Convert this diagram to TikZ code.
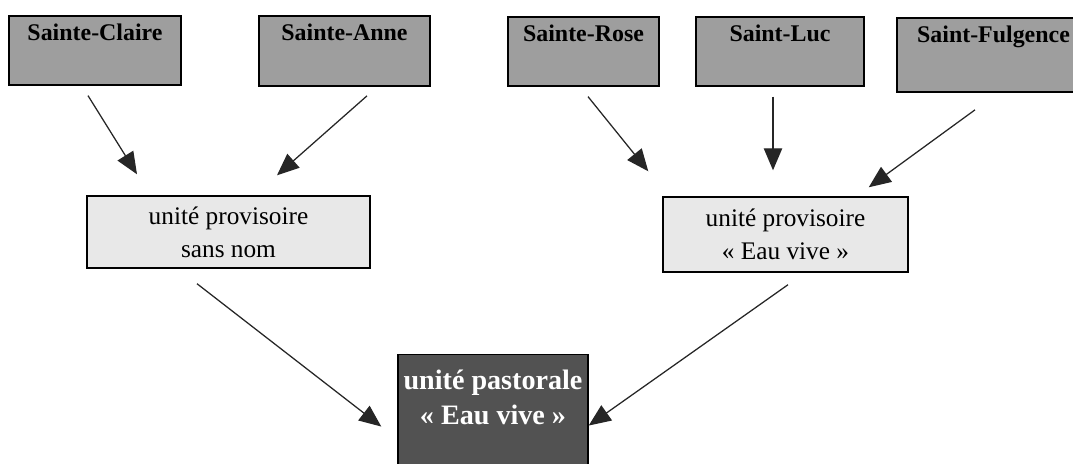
\documentclass[tikz,border=0pt]{standalone}
\usepackage{fontspec}
\setmainfont{Liberation Serif}
\usetikzlibrary{arrows.meta,calc}

\begin{document}
\begin{tikzpicture}[x=0.025cm, y=-0.025cm,
      parish/.style={rectangle, draw, line width=1.3pt, fill=black!38, anchor=north,
                     inner ysep=0pt, text height=0.62cm, text depth=1.1cm,
                     font=\fontsize{17}{20}\selectfont\bfseries},
      provunit/.style={rectangle, draw, line width=1pt, fill=black!9, align=center,
                       font=\fontsize{18}{23.5}\selectfont},
      pastunit/.style={rectangle, draw, line width=1pt, fill=black!68, text=white,
                       align=center, anchor=north, minimum width=4.75cm, minimum height=2.8cm,
                       font=\fontsize{20}{25}\selectfont\bfseries},
      arr/.style={-{Triangle[length=0.55cm, width=0.46cm]}, line width=0.9pt, draw=black!85}]
    \useasboundingbox (0,0) rectangle (1073,464);
    % parishes
    \node[parish, minimum width=4.3cm] (claire) at (95,15) {Sainte-Claire};
    \node[parish, minimum width=4.275cm, text depth=1.13cm] (anne) at (344.5,15) {Sainte-Anne};
    \node[parish, minimum width=3.775cm] (rose) at (583.5,16) {Sainte-Rose};
    \node[parish, minimum width=4.2cm] (luc) at (780,16) {Saint-Luc};
    \node[parish, minimum width=4.825cm, text depth=1.23cm] (fulg) at (993.5,17) {Saint-Fulgence};
    % provisional units
    \node[provunit, minimum width=7.075cm, minimum height=1.8cm] (sansnom) at (228.5,232)
      {unité provisoire\\sans nom};
    \node[provunit, minimum width=6.125cm, minimum height=1.875cm] (eauvive) at (785.5,234.5)
      {unité provisoire\\« Eau vive »};
    % pastoral unit
    \node[pastunit] (past) at (493,354) {\rule{0pt}{0.75cm}unité pastorale\\« Eau vive »\\[1.05cm]};
    \draw[arr] ($(claire.south)+(-7,10)$) -- ($(sansnom.north)+(-91.5,-21)$);
    \draw[arr] ($(anne.south)+(22.5,9)$) -- ($(sansnom.north)+(48.5,-20)$);
    \draw[arr] ($(rose.south)+(4.5,10)$) -- ($(eauvive.north west)+(-14,-25)$);
    \draw[arr] ($(luc.south)+(-7,10)$) -- ($(eauvive.north)+(-12.5,-26)$);
    \draw[arr] ($(fulg.south)+(-18.5,17)$) -- ($(eauvive.north east)+(-40,-9)$);
    \draw[arr] ($(sansnom.south)+(-31.5,15)$) -- ($(past.west)+(-16,-4)$);
    \draw[arr] ($(eauvive.south)+(2.5,12)$) -- ($(past.east)+(0,-5)$);
  \end{tikzpicture}
\end{document}
